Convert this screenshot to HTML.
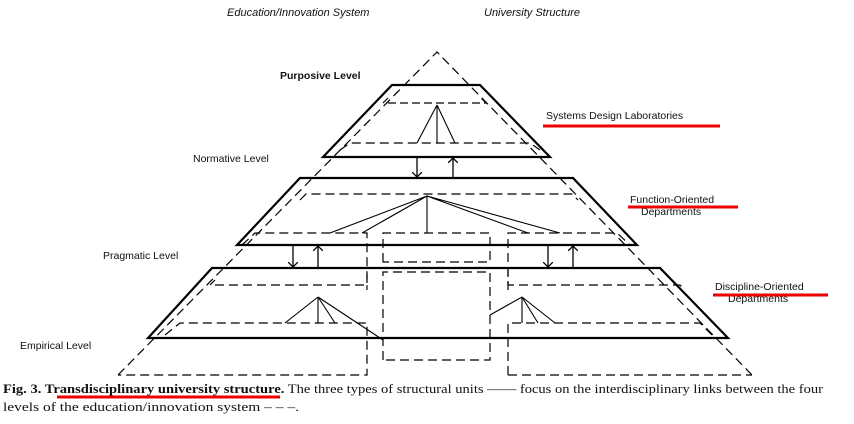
<!DOCTYPE html>
<html><head><style>body{margin:0;background:#fff}svg{display:block}</style></head>
<body>
<svg width="854" height="424" viewBox="0 0 854 424" xmlns="http://www.w3.org/2000/svg" font-family="Liberation Sans, sans-serif">
<defs><marker id="ah" markerWidth="10" markerHeight="10" refX="5" refY="5" orient="auto" markerUnits="userSpaceOnUse"><path d="M0,0 L5,5 L0,10" fill="none" stroke="#000" stroke-width="1.3"/></marker></defs>
<rect width="854" height="424" fill="#fff"/>
<g font-style="italic" font-size="11" fill="#111">
<text x="227" y="16">Education/Innovation System</text>
<text x="484" y="16">University Structure</text>
</g>
<g fill="none" stroke="#000" stroke-width="1.2" stroke-dasharray="9,5">
<path d="M118,375 L437,52 L752,375"/>
<path d="M383,103 L388,98 M388,103 L486,103 L480,97" stroke-dasharray="8,4"/>
<path d="M340,150 L350,143 L530,143 L540,150"/>
<path d="M300,200 L306,194 L572,194 L578,200"/>
<path d="M242,245 L255,233 L367,233 L367,290"/>
<path d="M383,262 L383,233 L490,233 L490,262 Z"/>
<path d="M508,290 L508,233 L617,233 L630,245"/>
<path d="M210,285 L215,280 M215,285 L367,285 L367,268"/>
<path d="M508,268 L508,285 L680,285 L685,290"/>
<path d="M383,360 L383,272 L490,272 L490,360 Z"/>
<path d="M165,335 L180,323 L367,323 L367,375 L118,375"/>
<path d="M508,375 L508,323 L700,323 L712,335"/>
<path d="M508,375 L752,375"/>
</g>
<g fill="none" stroke="#000" stroke-width="2.2">
<path d="M392,85 L480,85 L550,157 L323,157 Z"/>
<path d="M300,178 L573,178 L637,245 L237,245 Z"/>
<path d="M212,268 L660,268 L728,338 L148,338 Z"/>
</g>
<g fill="none" stroke="#000" stroke-width="1.1">
<path d="M437,105 L417,143 M437,105 L437,143 M437,105 L455,143"/>
<path d="M427,196 L330,233 M427,196 L362,233 M427,196 L427,233 M427,196 L528,233 M427,196 L560,233"/>
<path d="M318,297 L285,323 M318,297 L318,323 M318,297 L335,323 M318,297 L383,340"/>
<path d="M522,297 L490,315 M522,297 L522,323 M522,297 L538,323 M522,297 L555,323"/>
</g>
<g fill="none" stroke="#000" stroke-width="1.3">
<path d="M417,157 L417,177" marker-end="url(#ah)"/>
<path d="M453,178 L453,158" marker-end="url(#ah)"/>
<path d="M293,245 L293,267" marker-end="url(#ah)"/>
<path d="M318,268 L318,246" marker-end="url(#ah)"/>
<path d="M548,245 L548,267" marker-end="url(#ah)"/>
<path d="M573,268 L573,246" marker-end="url(#ah)"/>
</g>
<g font-size="10.5" fill="#111">
<text x="280" y="79" font-weight="bold">Purposive Level</text>
<text x="193" y="162">Normative Level</text>
<text x="103" y="259">Pragmatic Level</text>
<text x="20" y="349">Empirical Level</text>
<text x="546" y="119">Systems Design Laboratories</text>
<text x="630" y="203">Function-Oriented</text>
<text x="641" y="215">Departments</text>
<text x="715" y="290">Discipline-Oriented</text>
<text x="728" y="302">Departments</text>
</g>
<g stroke="#e00" stroke-width="3">
<path d="M543,126 L720,126"/><path d="M628,207 L738,207"/><path d="M713,295 L828,295"/>
<path d="M57,397 L280,397"/>
</g>
<g font-family="Liberation Serif, serif" font-size="12.5" fill="#111">
<text x="3" y="393" textLength="820" lengthAdjust="spacingAndGlyphs"><tspan font-weight="bold">Fig. 3. Transdisciplinary university structure.</tspan> The three types of structural units —— focus on the interdisciplinary links between the four</text>
<text x="3" y="411" textLength="296" lengthAdjust="spacingAndGlyphs">levels of the education/innovation system – – –.</text>
</g>
</svg>
</body></html>
